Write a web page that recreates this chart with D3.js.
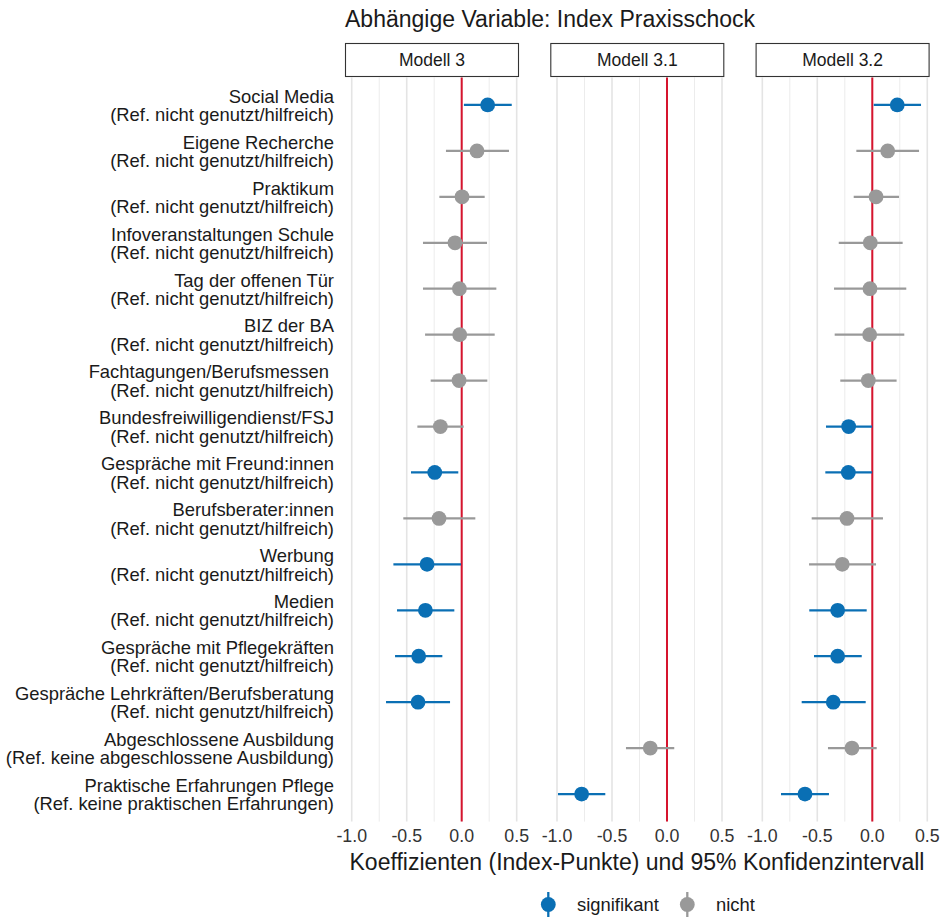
<!DOCTYPE html>
<html>
<head>
<meta charset="utf-8">
<script src="https://cdn.jsdelivr.net/npm/d3@7"></script>
<style>
  body { margin: 0; background: #fff; }
  text { font-family: "Liberation Sans", Arial, sans-serif; fill: #1a1a1a; }
</style>
</head>
<body>
<svg id="chart" width="944" height="918"></svg>
<script>
// predictors: [name, reference]
var predictors = [
  ["Social Media", "(Ref. nicht genutzt/hilfreich)"],
  ["Eigene Recherche", "(Ref. nicht genutzt/hilfreich)"],
  ["Praktikum", "(Ref. nicht genutzt/hilfreich)"],
  ["Infoveranstaltungen Schule", "(Ref. nicht genutzt/hilfreich)"],
  ["Tag der offenen Tür", "(Ref. nicht genutzt/hilfreich)"],
  ["BIZ der BA", "(Ref. nicht genutzt/hilfreich)"],
  ["Fachtagungen/Berufsmessen ", "(Ref. nicht genutzt/hilfreich)"],
  ["Bundesfreiwilligendienst/FSJ", "(Ref. nicht genutzt/hilfreich)"],
  ["Gespräche mit Freund:innen", "(Ref. nicht genutzt/hilfreich)"],
  ["Berufsberater:innen", "(Ref. nicht genutzt/hilfreich)"],
  ["Werbung", "(Ref. nicht genutzt/hilfreich)"],
  ["Medien", "(Ref. nicht genutzt/hilfreich)"],
  ["Gespräche mit Pflegekräften", "(Ref. nicht genutzt/hilfreich)"],
  ["Gespräche Lehrkräften/Berufsberatung", "(Ref. nicht genutzt/hilfreich)"],
  ["Abgeschlossene Ausbildung", "(Ref. keine abgeschlossene Ausbildung)"],
  ["Praktische Erfahrungen Pflege", "(Ref. keine praktischen Erfahrungen)"]
];

var models = ["Modell 3", "Modell 3.1", "Modell 3.2"];
var xTicks = [-1.0, -0.5, 0.0, 0.5];
var xTickLabels = ["-1.0", "-0.5", "0.0", "0.5"];

// per model: [predictor index, estimate, lower, upper, significant]
var modell3 = [
  [0, 0.236, 0.020, 0.455, true],
  [1, 0.139, -0.143, 0.430, false],
  [2, 0.003, -0.203, 0.209, false],
  [3, -0.061, -0.352, 0.230, false],
  [4, -0.021, -0.352, 0.315, false],
  [5, -0.018, -0.333, 0.300, false],
  [6, -0.024, -0.282, 0.233, false],
  [7, -0.194, -0.403, 0.018, false],
  [8, -0.245, -0.461, -0.031, true],
  [9, -0.206, -0.531, 0.124, false],
  [10, -0.315, -0.621, -0.006, true],
  [11, -0.330, -0.588, -0.067, true],
  [12, -0.391, -0.606, -0.176, true],
  [13, -0.397, -0.688, -0.106, true]
];
var modell31 = [
  [14, -0.152, -0.373, 0.066, false],
  [15, -0.776, -0.991, -0.561, true]
];
var modell32 = [
  [0, 0.227, 0.013, 0.443, true],
  [1, 0.140, -0.145, 0.425, false],
  [2, 0.034, -0.169, 0.243, false],
  [3, -0.018, -0.305, 0.276, false],
  [4, -0.021, -0.348, 0.309, false],
  [5, -0.024, -0.342, 0.291, false],
  [6, -0.036, -0.291, 0.221, false],
  [7, -0.215, -0.421, -0.002, true],
  [8, -0.218, -0.427, -0.002, true],
  [9, -0.230, -0.551, 0.097, false],
  [10, -0.273, -0.575, 0.034, false],
  [11, -0.315, -0.573, -0.051, true],
  [12, -0.315, -0.530, -0.096, true],
  [13, -0.355, -0.642, -0.060, true],
  [14, -0.185, -0.403, 0.040, false],
  [15, -0.612, -0.830, -0.394, true]
];
var modelData = [modell3, modell31, modell32];

var colSig = "#0A6FB4", colNot = "#999999", colRed = "#D6142E";

var svg = d3.select("#chart");

var panelLeft = 345, panelW = 174, panelStep = 205.3,
    yTop = 77.4, yBottom = 821.6;

var x = d3.scaleLinear().domain([-1.061, 0.521]).range([0, panelW]);
var y = d3.scalePoint()
    .domain(d3.range(predictors.length))
    .range([yTop, yBottom])
    .padding(0.6);

// title
svg.append("text")
    .attr("x", panelLeft).attr("y", 27)
    .style("font-size", "23px")
    .text("Abhängige Variable: Index Praxisschock");

// y labels
var yl = svg.append("g").selectAll("text")
    .data(predictors)
  .enter().append("text")
    .attr("text-anchor", "end")
    .style("font-size", "18.4px")
    .attr("transform", function(d, i) { return "translate(334,"+ y(i) + ")"; });
yl.append("tspan").attr("x", 0).attr("y", -2.2).text(function(d) { return d[0]; });
yl.append("tspan").attr("x", 0).attr("y", 16.2).text(function(d) { return d[1]; });

models.forEach(function(m, k) {
  var g = svg.append("g")
      .attr("transform", "translate(" + (panelLeft + k * panelStep) + ",0)");

  // grid: minor then major
  g.selectAll(".minor")
      .data([-0.75, -0.25, 0.25])
    .enter().append("line")
      .attr("x1", x).attr("x2", x)
      .attr("y1", yTop).attr("y2", yBottom)
      .attr("stroke", "#ececec").attr("stroke-width", 1);
  g.selectAll(".major")
      .data(xTicks)
    .enter().append("line")
      .attr("x1", x).attr("x2", x)
      .attr("y1", yTop).attr("y2", yBottom)
      .attr("stroke", "#e4e4e4").attr("stroke-width", 1.6);

  // zero line
  g.append("line")
      .attr("x1", x(0)).attr("x2", x(0))
      .attr("y1", yTop).attr("y2", yBottom)
      .attr("stroke", colRed).attr("stroke-width", 2);

  // strip
  g.append("rect")
      .attr("x", 0.5).attr("y", 43.5)
      .attr("width", panelW - 1).attr("height", 33)
      .attr("fill", "#fff").attr("stroke", "#333").attr("stroke-width", 1.1);
  g.append("text")
      .attr("x", panelW / 2).attr("y", 66)
      .attr("text-anchor", "middle")
      .style("font-size", "17.5px")
      .text(m);

  // tick labels
  g.selectAll(".tick")
      .data(xTicks)
    .enter().append("text")
      .attr("x", x).attr("y", 842)
      .attr("text-anchor", "middle")
      .style("font-size", "17.8px")
      .style("fill", "#333")
      .text(function(d, i) { return xTickLabels[i]; });

  var pts = g.selectAll(".pt")
      .data(modelData[k])
    .enter().append("g");
  pts.append("line")
      .attr("x1", function(d) { return x(d[2]); })
      .attr("x2", function(d) { return x(d[3]); })
      .attr("y1", function(d) { return y(d[0]); })
      .attr("y2", function(d) { return y(d[0]); })
      .attr("stroke", function(d) { return d[4] ? colSig : colNot; })
      .attr("stroke-width", 2.3);
  pts.append("circle")
      .attr("cx", function(d) { return x(d[1]); })
      .attr("cy", function(d) { return y(d[0]); })
      .attr("r", 7.4)
      .attr("fill", function(d) { return d[4] ? colSig : colNot; });
});

// x title
svg.append("text")
    .attr("x", 637).attr("y", 870)
    .attr("text-anchor", "middle")
    .style("font-size", "23px")
    .text("Koeffizienten (Index-Punkte) und 95% Konfidenzintervall");

// legend
var legend = [["signifikant", colSig, 548.3, 577], ["nicht", colNot, 687.3, 716]];
var lg = svg.append("g").selectAll("g")
    .data(legend)
  .enter().append("g");
lg.append("line")
    .attr("x1", function(d) { return d[2]; }).attr("x2", function(d) { return d[2]; })
    .attr("y1", 892).attr("y2", 917)
    .attr("stroke", function(d) { return d[1]; }).attr("stroke-width", 2.3);
lg.append("circle")
    .attr("cx", function(d) { return d[2]; }).attr("cy", 904.5).attr("r", 7.4)
    .attr("fill", function(d) { return d[1]; });
lg.append("text")
    .attr("x", function(d) { return d[3]; }).attr("y", 911)
    .style("font-size", "18.4px")
    .text(function(d) { return d[0]; });
</script>
</body>
</html>
